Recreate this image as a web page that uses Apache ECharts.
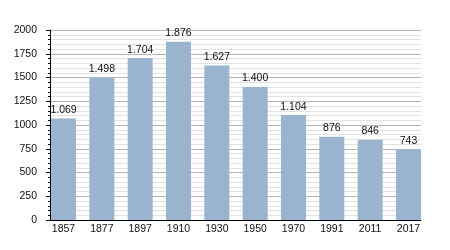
<!DOCTYPE html>
<html><head><meta charset="utf-8">
<script src="https://cdn.jsdelivr.net/npm/echarts@6/dist/echarts.min.js"></script>
<style>html,body{margin:0;padding:0;background:#fff}#c{width:450px;height:250px}</style>
</head><body><div id="c"></div>
<script>
const years = ['1857','1877','1897','1910','1930','1950','1970','1991','2011','2017'];
const population = [1069, 1498, 1704, 1876, 1627, 1400, 1104, 876, 846, 743];
const yTicks = [0, 250, 500, 750, 1000, 1250, 1500, 1750, 2000];

const fmt = v => {
  const s = String(v);
  return s.length > 3 ? s.slice(0, s.length - 3) + '.' + s.slice(-3) : s;
};
const font = 'Liberation Sans, Arial, sans-serif';
const chart = echarts.init(document.getElementById('c'), null, {renderer: 'canvas'});
chart.setOption({
  animation: false,
  grid: [
    {left: 44.35, width: 383.3, top: 30, bottom: 30},
    {left: 50, right: 29, top: 30, bottom: 30}
  ],
  xAxis: [
    {gridIndex: 0, type: 'category', data: years,
     axisLine: {show: false}, axisTick: {show: false},
     axisLabel: {color: '#111', fontFamily: font, fontSize: 10.5, margin: 4}},
    {gridIndex: 1, type: 'value', min: 0, max: 1,
     axisLine: {show: true, lineStyle: {color: '#000', width: 1}},
     axisTick: {show: false}, axisLabel: {show: false}, splitLine: {show: false}}
  ],
  yAxis: [
    {gridIndex: 0, type: 'value', min: yTicks[0], max: yTicks[yTicks.length - 1], show: false,
     splitLine: {show: false}},
    {gridIndex: 1, type: 'value', min: yTicks[0], max: yTicks[yTicks.length - 1], interval: 250,
     axisLine: {show: true, lineStyle: {color: '#000', width: 1}},
     axisTick: {show: true, length: 4, lineStyle: {color: '#000'}},
     minorTick: {show: true, splitNumber: 5, length: 2, lineStyle: {color: '#000'}},
     axisLabel: {color: '#111', fontFamily: font, fontSize: 10.5, margin: 13,
       formatter: v => String(v)},
     splitLine: {show: true, lineStyle: {color: '#b4b4b4', width: 1}},
     minorSplitLine: {show: true, lineStyle: {color: '#e2e2e2', width: 1}}}
  ],
  series: [{
    type: 'bar', xAxisIndex: 0, yAxisIndex: 0, data: population,
    barWidth: 25, z: 3,
    itemStyle: {color: '#9ab3cf'},
    label: {show: true, position: 'top', distance: 3, color: '#111',
      fontFamily: font, fontSize: 10.5, formatter: p => fmt(p.value)}
  }]
});
</script></body></html>
